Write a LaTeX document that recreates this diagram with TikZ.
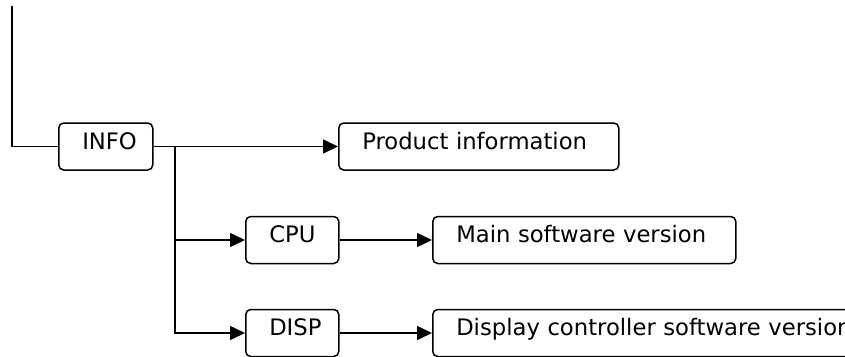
\documentclass[tikz,border=0pt]{standalone}
\usepackage{fontspec}
\setmainfont{DejaVu Sans}
\usetikzlibrary{arrows.meta}
\begin{document}
\begin{tikzpicture}[x=1pt,y=-1pt,
  box/.style={draw, rounded corners=5pt, line width=1.5pt, minimum height=47pt,
    inner xsep=23.5pt, inner ysep=0pt, anchor=west, align=left,
    text height=16pt, text depth=10.5pt,
    font=\fontsize{22.7}{27}\selectfont},
  conn/.style={line width=1.5pt},
  arr/.style={conn, -{Triangle[length=15pt,width=14pt]}}]
\useasboundingbox (0,0) rectangle (845,356);
\clip (0,0) rectangle (845,356);
\node[box, text width=47pt] (info) at (58,146.5) {INFO};
\node[box, text width=233pt] (prod) at (338,146.5) {Product information};
\node[box, text width=46pt] (cpu) at (245,240) {CPU};
\node[box, text width=46pt] (disp) at (245,333) {DISP};
\node[box, text width=256pt] (main) at (432,240) {Main software version};
\node[box, text width=430pt] (dctl) at (432,333) {Display controller software version};
\coordinate (top) at (12,6);
\coordinate (br) at (175,146.5);
\draw[conn] (top) |- (info.west);
\draw[arr] (info.east) -- (prod.west);
\draw[arr] (br) |- (cpu.west);
\draw[arr] (br) |- (disp.west);
\draw[arr] (cpu.east) -- (main.west);
\draw[arr] (disp.east) -- (dctl.west);
\end{tikzpicture}
\end{document}
